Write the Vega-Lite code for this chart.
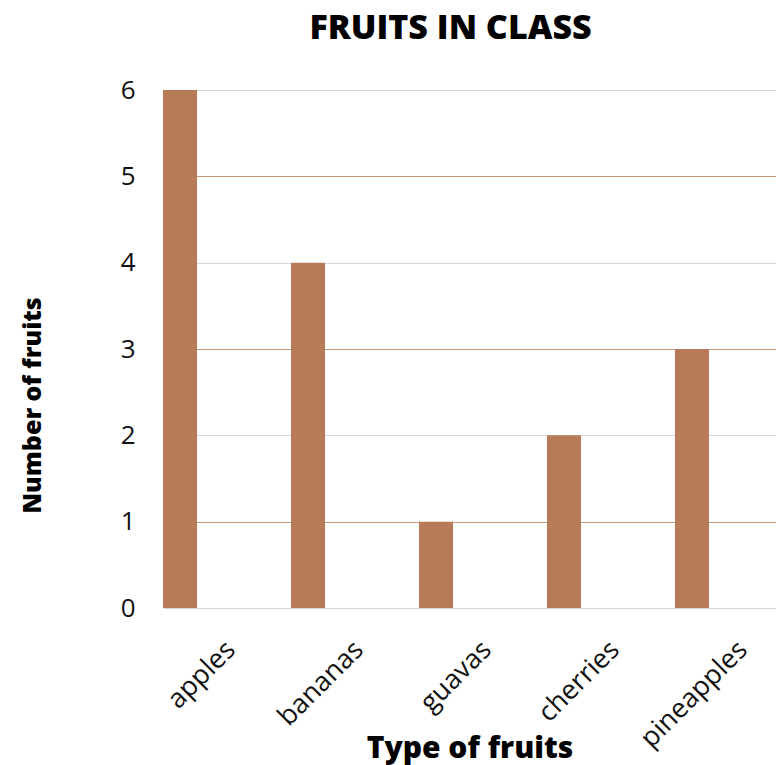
{
  "$schema": "https://vega.github.io/schema/vega-lite/v6.json",
  "autosize": {"type": "none"},
  "padding": {"left": 163, "top": 90, "right": 0, "bottom": 157},
  "width": 613,
  "height": 518,
  "background": "white",
  "title": {
    "text": "FRUITS IN CLASS",
    "font": "Open Sans",
    "fontSize": 34,
    "fontWeight": 800,
    "color": "#000000",
    "anchor": "middle",
    "dx": -19,
    "baseline": "alphabetic",
    "offset": 4
  },
  "data": {
    "values": [
      {"fruit": "apples", "count": 6},
      {"fruit": "bananas", "count": 4},
      {"fruit": "guavas", "count": 1},
      {"fruit": "cherries", "count": 2},
      {"fruit": "pineapples", "count": 3}
    ]
  },
  "mark": {"type": "bar", "color": "#b87b57"},
  "encoding": {
    "x": {
      "field": "fruit",
      "type": "nominal",
      "sort": null,
      "scale": {"paddingInner": 0.734, "paddingOuter": 0.2617, "align": 0},
      "axis": {
        "title": "Type of fruits",
        "titleFont": "Open Sans",
        "titleFontSize": 30,
        "titleFontWeight": 800,
        "titleColor": "#000000",
        "titleY": 149,
        "titleBaseline": "alphabetic",
        "labelFont": "Open Sans",
        "labelFontSize": 27,
        "labelColor": "#111111",
        "labelAngle": -45,
        "labelAlign": "right",
        "labelBaseline": "top",
        "labelOffset": 42,
        "labelPadding": 28,
        "ticks": false,
        "domain": false,
        "grid": false
      }
    },
    "y": {
      "field": "count",
      "type": "quantitative",
      "scale": {"domain": [0, 6]},
      "axis": {
        "title": "Number of fruits",
        "titleFont": "Open Sans",
        "titleFontSize": 25,
        "titleFontWeight": 800,
        "titleColor": "#000000",
        "titleAngle": -90,
        "titleX": -123,
        "titleY": 315,
        "titleAlign": "center",
        "titleBaseline": "alphabetic",
        "values": [0, 1, 2, 3, 4, 5, 6],
        "labelFont": "Open Sans",
        "labelFontSize": 26,
        "labelColor": "#111111",
        "labelPadding": 28,
        "ticks": false,
        "domain": false,
        "grid": true,
        "gridWidth": 1.2,
        "gridColor": {
          "condition": {"test": "datum.value == 1 || datum.value == 3 || datum.value == 5", "value": "#c9977a"},
          "value": "#d6d6d6"
        }
      }
    }
  },
  "config": {"view": {"stroke": null}}
}
